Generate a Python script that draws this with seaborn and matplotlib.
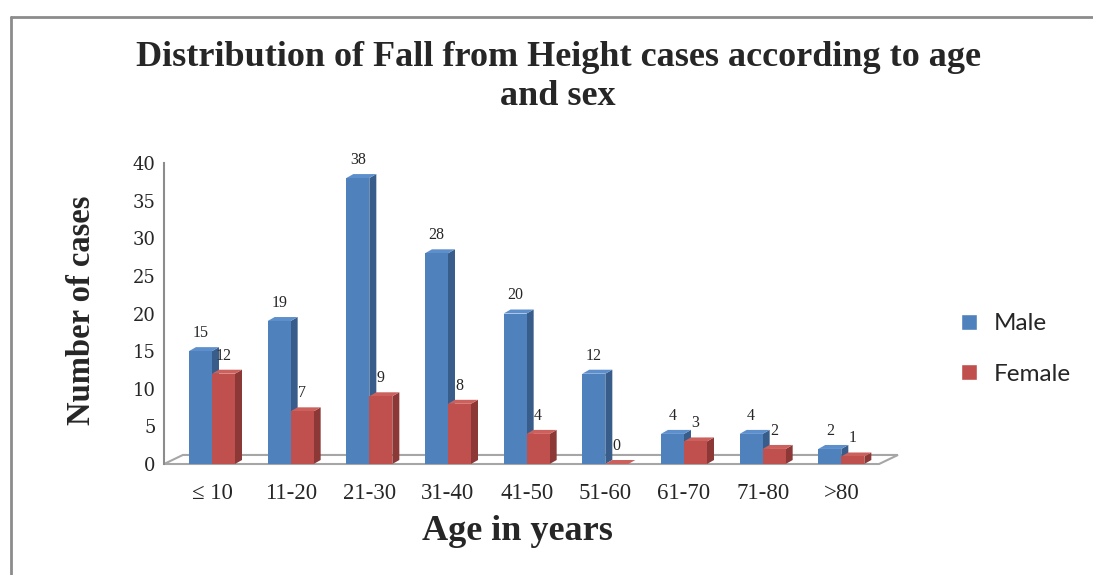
import pandas as pd
import numpy as np
import matplotlib
matplotlib.use("Agg")
import matplotlib.pyplot as plt
from matplotlib.patches import Polygon, Patch
from matplotlib.lines import Line2D
import seaborn as sns

sns.set_style("white")

## Data ##
age_groups = ["\u2264 10", "11-20", "21-30", "31-40", "41-50", "51-60", "61-70", "71-80", ">80"]
male = [15, 19, 38, 28, 20, 12, 4, 4, 2]
female = [12, 7, 9, 8, 4, 0, 3, 2, 1]

df = pd.DataFrame({
    "Age": age_groups * 2,
    "Cases": male + female,
    "Sex": ["Male"] * len(male) + ["Female"] * len(female),
})

## Colours ##
front = {"Male": "#4f81bd", "Female": "#c0504d"}
side = {"Male": "#385d8a", "Female": "#8c3836"}
top = {"Male": "#5d8fcc", "Female": "#cc605d"}
grey = "#8c8c8c"

fig = plt.figure(figsize=(10.93, 5.75), dpi=100)
ax = fig.add_axes([164 / 1093, 1 - 464 / 575, 708 / 1093, 301 / 575])

sns.barplot(data=df, x="Age", y="Cases", hue="Sex", palette=front,
            width=0.585, saturation=1, linewidth=0, legend=False, ax=ax)

ax.set_xlim(-0.61, 8.39)
ax.set_ylim(0, 40)

# fake 3D depth for each bar, taken from the bar geometry
dx, dy = 0.089, 0.53
bars = list(ax.patches)
for p in bars:
    x0, w, h = p.get_x(), p.get_width(), p.get_height()
    sex = "Male" if matplotlib.colors.to_hex(p.get_facecolor()) == front["Male"] else "Female"
    p.set_zorder(3)
    ax.add_patch(Polygon([(x0 + w, 0), (x0 + w + dx, dy), (x0 + w + dx, h + dy), (x0 + w, h)],
                         closed=True, fc=side[sex], ec="none", zorder=2))
    ax.add_patch(Polygon([(x0, h), (x0 + dx, h + dy), (x0 + w + dx, h + dy), (x0 + w, h)],
                         closed=True, fc=top[sex], ec="none", zorder=2.5))
    ax.annotate(str(int(round(h))), (x0 + w / 2, h), xytext=(0, 13), textcoords="offset points",
                ha="center", va="center", fontsize=11.5, family="Liberation Serif", zorder=5)

# floor
ax.add_patch(Polygon([(-0.61, 0), (-0.37, 1.2), (8.72, 1.2), (8.48, 0)], closed=True,
                     fc="white", ec="#a6a6a6", lw=1.5, zorder=1, clip_on=False))

# axes styling
for s in ["top", "right", "bottom"]:
    ax.spines[s].set_visible(False)
ax.spines["left"].set_color(grey)
ax.spines["left"].set_linewidth(1.5)

ax.set_yticks(range(0, 41, 5))
ax.tick_params(axis="y", length=4, width=1.2, color=grey, pad=2, labelsize=13)
for t in ax.get_yticklabels():
    t.set_family("DejaVu Serif")

ax.set_xticks(range(len(age_groups)))
ax.set_xticklabels(age_groups, family="Liberation Serif", fontsize=16.5)
ax.set_xticks(np.arange(len(age_groups) + 1) - 0.61, minor=True)
ax.tick_params(axis="x", which="major", length=0, pad=14)
ax.tick_params(axis="x", which="minor", length=5, width=1.2, color=grey, direction="out")

ax.set_xlabel("")
ax.set_ylabel("")

# titles
fig.text(558 / 1093, 1 - 77 / 575,
         "Distribution of Fall from Height cases according to age\nand sex",
         ha="center", va="center", fontsize=26, fontweight="bold",
         family="Liberation Serif", linespacing=1.22)
fig.text(81 / 1093, 1 - 310 / 575, "Number of cases", rotation=90, ha="center", va="center",
         fontsize=23.5, fontweight="bold", family="Liberation Serif")
fig.text(517 / 1093, 1 - 532 / 575, "Age in years", ha="center", va="center",
         fontsize=26, fontweight="bold", family="Liberation Serif")

# legend
handles = [Patch(fc=front["Male"]), Patch(fc=front["Female"])]
ax.legend(handles, ["Male", "Female"], loc="center left", bbox_to_anchor=(939 / 1093, 1 - 349 / 575),
          bbox_transform=fig.transFigure, frameon=False, handlelength=0.65, handleheight=0.65,
          handletextpad=0.7, labelspacing=1.2, prop={"family": "Lato", "size": 17.5})

# outer frame
fig.add_artist(Line2D([11 / 1093, 1], [1 - 17 / 575, 1 - 17 / 575], color=grey, lw=2))
fig.add_artist(Line2D([11 / 1093, 11 / 1093], [0, 1 - 17 / 575], color=grey, lw=2))

plt.savefig("out.png", dpi=100)
